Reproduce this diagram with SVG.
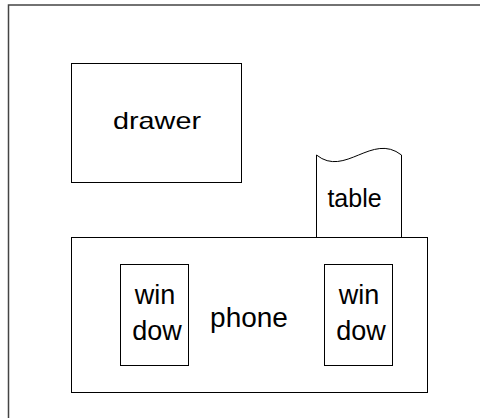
<svg xmlns="http://www.w3.org/2000/svg" width="480" height="418" viewBox="0 0 480 418">
<style>
.frame{fill:none;stroke:#444;stroke-width:1.5}
.box{fill:#fff;stroke:#000;stroke-width:1}
.t{font-family:"Liberation Sans",Arial,sans-serif;fill:#000;text-anchor:middle}
</style>
<rect width="480" height="418" fill="#fff"/>
<rect class="frame" x="8.5" y="5" width="490" height="430"/>
<g id="drawer">
<rect class="box" x="71.5" y="63.5" width="170" height="119"/>
<text class="t" x="157" y="128.5" font-size="24" textLength="88" lengthAdjust="spacingAndGlyphs">drawer</text>
</g>
<g id="table">
<path class="box" d="M316.5,155 C345,178 372,132 401.5,155 L401.5,237.5 L316.5,237.5 Z"/>
<text class="t" x="354.5" y="206.5" font-size="25">table</text>
</g>
<g id="phone">
<rect class="box" x="71.5" y="237.5" width="356" height="155"/>
<text class="t" x="249" y="327" font-size="28">phone</text>
</g>
<g id="window1">
<rect class="box" x="120.5" y="264.5" width="68" height="101"/>
<text class="t" x="155" y="303.5" font-size="27">win</text>
<text class="t" x="157" y="340" font-size="27">dow</text>
</g>
<g id="window2">
<rect class="box" x="324.5" y="264.5" width="68" height="101"/>
<text class="t" x="359" y="303.5" font-size="27">win</text>
<text class="t" x="361" y="340" font-size="27">dow</text>
</g>
<g id="connectors"></g>
</svg>
